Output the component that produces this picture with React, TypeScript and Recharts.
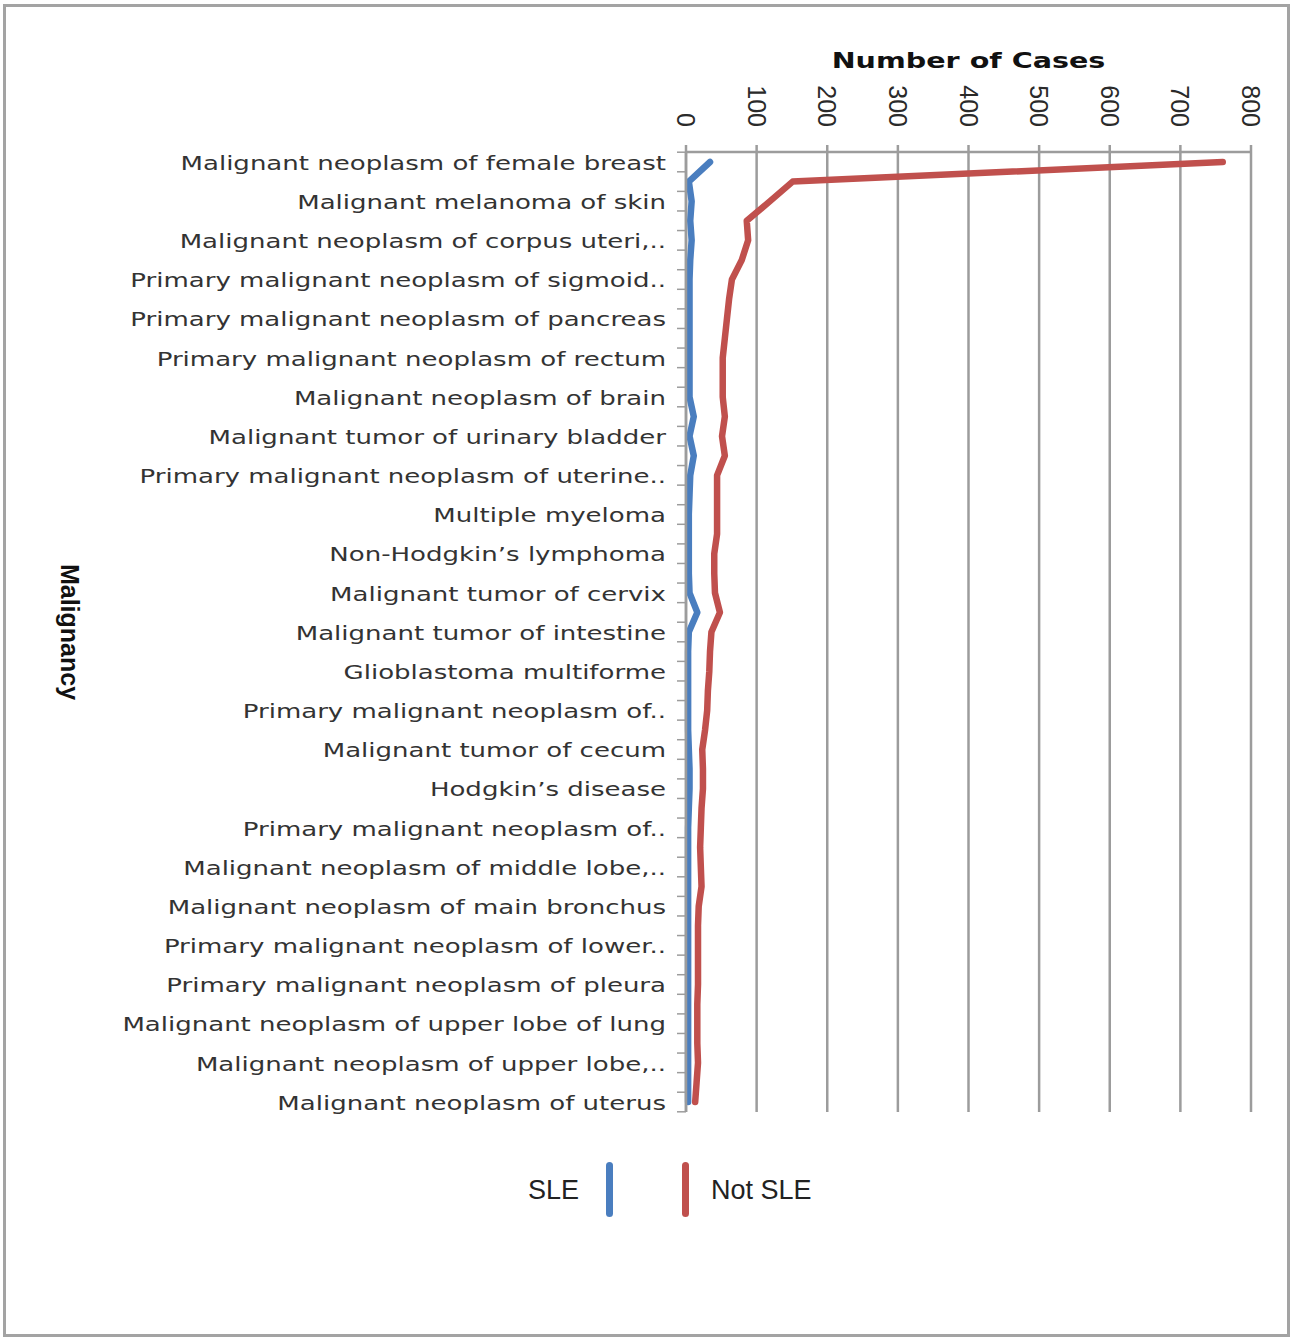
import React from 'react';
import { LineChart, Line, XAxis, YAxis, CartesianGrid, Legend, Label } from 'recharts';

// 49 malignancies, Excel only printed every other name
const categoryLabels = [
  'Malignant neoplasm of female breast', '',
  'Malignant melanoma of skin', '',
  'Malignant neoplasm of corpus uteri,..', '',
  'Primary malignant neoplasm of sigmoid..', '',
  'Primary malignant neoplasm of pancreas', '',
  'Primary malignant neoplasm of rectum', '',
  'Malignant neoplasm of brain', '',
  'Malignant tumor of urinary bladder', '',
  'Primary malignant neoplasm of uterine..', '',
  'Multiple myeloma', '',
  'Non-Hodgkin’s lymphoma', '',
  'Malignant tumor of cervix', '',
  'Malignant tumor of intestine', '',
  'Glioblastoma multiforme', '',
  'Primary malignant neoplasm of..', '',
  'Malignant tumor of cecum', '',
  'Hodgkin’s disease', '',
  'Primary malignant neoplasm of..', '',
  'Malignant neoplasm of middle lobe,..', '',
  'Malignant neoplasm of main bronchus', '',
  'Primary malignant neoplasm of lower..', '',
  'Primary malignant neoplasm of pleura', '',
  'Malignant neoplasm of upper lobe of lung', '',
  'Malignant neoplasm of upper lobe,..', '',
  'Malignant neoplasm of uterus',
];

const sleCases = [
  34, 4, 8, 6, 8, 6, 5, 5, 5, 5, 5, 5, 5, 11, 5, 11, 6, 5, 4, 4, 4, 4, 5, 16, 4,
  3, 3, 3, 3, 3, 4, 5, 5, 4, 3, 3, 3, 3, 3, 3, 3, 3, 3, 3, 3, 3, 3, 3, 3,
];

const notSleCases = [
  760, 151, 119, 86, 88, 79, 65, 61, 58, 55, 52, 52, 52, 55, 51, 55, 44, 44, 44, 44,
  40, 40, 41, 48, 36, 34, 33, 31, 30, 27, 23, 24, 24, 22, 21, 20, 21, 22, 18, 17,
  17, 17, 17, 16, 16, 16, 17, 15, 13,
];

const caseTicks = [0, 100, 200, 300, 400, 500, 600, 700, 800];

const data = categoryLabels.map((name, i) => ({
  name,
  sle: sleCases[i],
  notSle: notSleCases[i],
}));

const GRID = '#9c9c9c';

const CategoryTick = (props: any) => {
  const { x, y, payload } = props;
  const label = categoryLabels[payload.index];
  const half = 9.8;
  return (
    <g>
      <line x1={x - 9} x2={x} y1={y + half} y2={y + half} stroke={GRID} strokeWidth={1.5} />
      {payload.index === 0 && (
        <line x1={x - 9} x2={x} y1={y - half} y2={y - half} stroke={GRID} strokeWidth={1.5} />
      )}
      {label && (
        <text
          transform={`translate(${x - 20},${y + 1}) scale(1.37,1)`}
          textAnchor="end"
          dominantBaseline="central"
          fontFamily="DejaVu Sans"
          fontSize={19}
          fill="#333"
        >
          {label}
        </text>
      )}
    </g>
  );
};

const CaseTick = (props: any) => {
  const { x, y, payload } = props;
  return (
    <text
      transform={`translate(${x},${y}) rotate(90)`}
      textAnchor="end"
      dominantBaseline="central"
      fontFamily="Liberation Sans"
      fontSize={25}
      fill="#2a2a2a"
    >
      {payload.value}
    </text>
  );
};

const LegendContent = (props: any) => {
  const payload: any[] = props.payload || [];
  const sle = payload.find((p) => p.dataKey === 'sle');
  const notSle = payload.find((p) => p.dataKey === 'notSle');
  const textStyle: React.CSSProperties = {
    position: 'absolute',
    top: 23,
    fontFamily: 'Liberation Sans',
    fontSize: 27,
    color: '#222',
    lineHeight: '30px',
    whiteSpace: 'nowrap',
  };
  const markerStyle = (left: number, color: string): React.CSSProperties => ({
    position: 'absolute',
    left,
    top: 10,
    width: 7,
    height: 55,
    borderRadius: 4,
    background: color,
  });
  return (
    <div style={{ position: 'relative', width: 1293, height: 80 }}>
      {sle && (
        <>
          <div style={{ ...textStyle, right: 1293 - 579, textAlign: 'right' }}>{sle.value}</div>
          <div style={markerStyle(606, sle.color)} />
        </>
      )}
      {notSle && (
        <>
          <div style={markerStyle(682, notSle.color)} />
          <div style={{ ...textStyle, left: 711 }}>{notSle.value}</div>
        </>
      )}
    </div>
  );
};

export default function App() {
  return (
    <div style={{ position: 'fixed', left: 0, top: 0, width: 1293, height: 1342, background: '#fff' }}>
      <div
        style={{
          position: 'absolute',
          left: 3,
          top: 4,
          width: 1287,
          height: 1333,
          border: '3px solid #a3a3a3',
          boxSizing: 'border-box',
        }}
      />
      <div style={{ position: 'absolute', left: 0, top: 0 }}>
        <LineChart
          layout="vertical"
          width={1293}
          height={1342}
          data={data}
          margin={{ top: 92, right: 42, bottom: 230, left: 0 }}
        >
          <CartesianGrid horizontal={false} stroke={GRID} strokeWidth={2.5} />
          <XAxis
            type="number"
            orientation="top"
            domain={[0, 800]}
            ticks={caseTicks}
            height={60}
            tick={<CaseTick />}
            tickSize={7}
            tickMargin={18}
            axisLine={{ stroke: GRID, strokeWidth: 2.5 }}
            tickLine={{ stroke: GRID, strokeWidth: 2.5 }}
          >
            <Label
              value="Number of Cases"
              position="top"
              content={(p: any) => {
                const vb = p.viewBox;
                const cx = vb.x + vb.width / 2;
                return (
                  <text
                    transform={`translate(${cx},${vb.y - 32}) scale(1.3,1)`}
                    textAnchor="middle"
                    dominantBaseline="central"
                    fontFamily="DejaVu Sans"
                    fontWeight="bold"
                    fontSize={22}
                    fill="#111"
                  >
                    Number of Cases
                  </text>
                );
              }}
            />
          </XAxis>
          <YAxis
            type="category"
            width={686}
            interval={0}
            padding={{ top: 10, bottom: 10 }}
            tick={<CategoryTick />}
            tickSize={0}
            tickMargin={0}
            tickLine={false}
            axisLine={{ stroke: GRID, strokeWidth: 2.5 }}
          >
            <Label
              value="Malignancy"
              content={(p: any) => {
                const vb = p.viewBox;
                return (
                  <text
                    transform={`translate(70,${vb.y + vb.height / 2}) rotate(90)`}
                    textAnchor="middle"
                    dominantBaseline="central"
                    fontFamily="Liberation Sans"
                    fontWeight="bold"
                    fontSize={25}
                    fill="#111"
                  >
                    Malignancy
                  </text>
                );
              }}
            />
          </YAxis>
          <Legend
            layout="horizontal"
            verticalAlign="middle"
            align="center"
            wrapperStyle={{ left: 0, top: 1152, width: 1293, height: 80 }}
            content={<LegendContent />}
          />
          <Line
            name="SLE"
            dataKey="sle"
            stroke="#4a7ebf"
            strokeWidth={6.5}
            strokeLinejoin="round"
            strokeLinecap="round"
            dot={false}
            isAnimationActive={false}
          />
          <Line
            name="Not SLE"
            dataKey="notSle"
            stroke="#c0504d"
            strokeWidth={6.5}
            strokeLinejoin="round"
            strokeLinecap="round"
            dot={false}
            isAnimationActive={false}
          />
        </LineChart>
      </div>
    </div>
  );
}
